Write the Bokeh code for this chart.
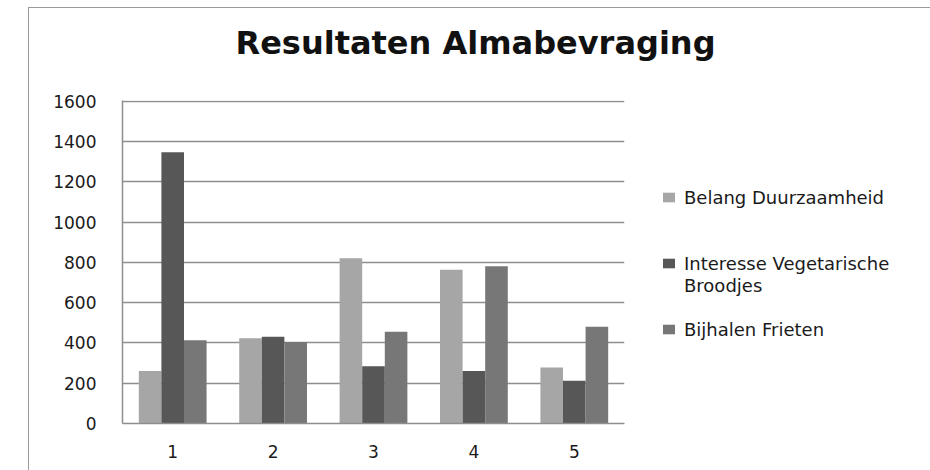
from bokeh.plotting import figure
from bokeh.models import (ColumnDataSource, FactorRange, Range1d, FixedTicker,
                          Legend, LegendItem, Title)
from bokeh.transform import dodge
from bokeh.embed import file_html
from bokeh.resources import INLINE

# ---- data ----
categories = ["1", "2", "3", "4", "5"]
belang_duurzaamheid = [261, 423, 820, 763, 278]
interesse_vegetarisch = [1346, 430, 284, 260, 212]
bijhalen_frieten = [413, 405, 455, 781, 480]
series_labels = ["Belang Duurzaamheid", "Interesse Vegetarische", "Bijhalen Frieten"]
label_continuation = "Broodjes"
y_ticks = [0, 200, 400, 600, 800, 1000, 1200, 1400, 1600]
title_text = "Resultaten Almabevraging"

colors = ["#a6a6a6", "#575757", "#777777"]
grid_col = "#8e8e8e"
text_col = "#1a1a1a"
font = "DejaVu Sans"

src = ColumnDataSource(dict(cat=categories, b=belang_duurzaamheid,
                            i=interesse_vegetarisch, f=bijhalen_frieten))

p = figure(title=None,
           x_range=FactorRange(factors=categories, range_padding=0),
           y_range=Range1d(0, 1603),
           frame_width=502, frame_height=323,
           output_backend="svg", toolbar_location=None,
           min_border_left=93, min_border_right=307, min_border_top=92, min_border_bottom=48,
           margin=(7, 0, 0, 28),
           styles={"border-left": "1.5px solid #9a9a9a", "border-top": "1.5px solid #9a9a9a"})
p.outline_line_color = None
p.background_fill_color = "white"
p.border_fill_color = "white"

renderers = []
bw = 0.225
for col, off, c in [("b", -0.225, colors[0]), ("i", 0.0, colors[1]), ("f", 0.225, colors[2])]:
    r = p.vbar(x=dodge("cat", off, range=p.x_range), top=col, width=bw, source=src,
               fill_color=c, line_color=None)
    renderers.append(r)
# empty, invisible renderer used for legend spacer rows / wrapped line
blank = p.vbar(x=[], top=[], width=bw, fill_alpha=0, line_alpha=0)

# axes
p.yaxis.ticker = FixedTicker(ticks=y_ticks)
p.ygrid.ticker = FixedTicker(ticks=y_ticks)
for ax in (p.xaxis[0], p.yaxis[0]):
    ax.axis_line_color = grid_col
    ax.axis_line_width = 1.5
    ax.major_tick_line_color = None
    ax.minor_tick_line_color = None
    ax.major_tick_out = 0
    ax.major_tick_in = 0
    ax.major_label_text_font = font
    ax.major_label_text_font_size = "17px"
    ax.major_label_text_color = text_col
p.yaxis.major_label_standoff = 26
p.xaxis.major_label_standoff = 21
p.xgrid.grid_line_color = None
p.ygrid.grid_line_color = grid_col
p.ygrid.grid_line_width = 1.5

# title: a blank spacer panel next to the frame, then the real title above it
p.add_layout(Title(text=" ", standoff=11, text_font=font, text_font_size="20px"), "above")
p.add_layout(Title(text=title_text, align="left", offset=113, standoff=0,
                   vertical_align="top",
                   text_font=font, text_font_style="bold", text_font_size="32px",
                   text_color="#111111"), "above")

# legend rows (22 px pitch), spacer rows keep Excel's spacing
items = [LegendItem(label=series_labels[0], renderers=[renderers[0]]),
         LegendItem(label=" ", renderers=[blank]),
         LegendItem(label=" ", renderers=[blank]),
         LegendItem(label=series_labels[1], renderers=[renderers[1]]),
         LegendItem(label=label_continuation, renderers=[blank]),
         LegendItem(label=" ", renderers=[blank]),
         LegendItem(label=series_labels[2], renderers=[renderers[2]])]
legend = Legend(items=items, location=(37, 83), orientation="vertical",
                glyph_width=15, glyph_height=12, label_standoff=8, label_height=22,
                spacing=0, padding=0, margin=0, border_line_color=None,
                background_fill_alpha=0, label_text_font=font, label_text_font_size="18px",
                label_text_color=text_col)
p.add_layout(legend, "right")

open("out.html", "w").write(file_html(p, INLINE))
